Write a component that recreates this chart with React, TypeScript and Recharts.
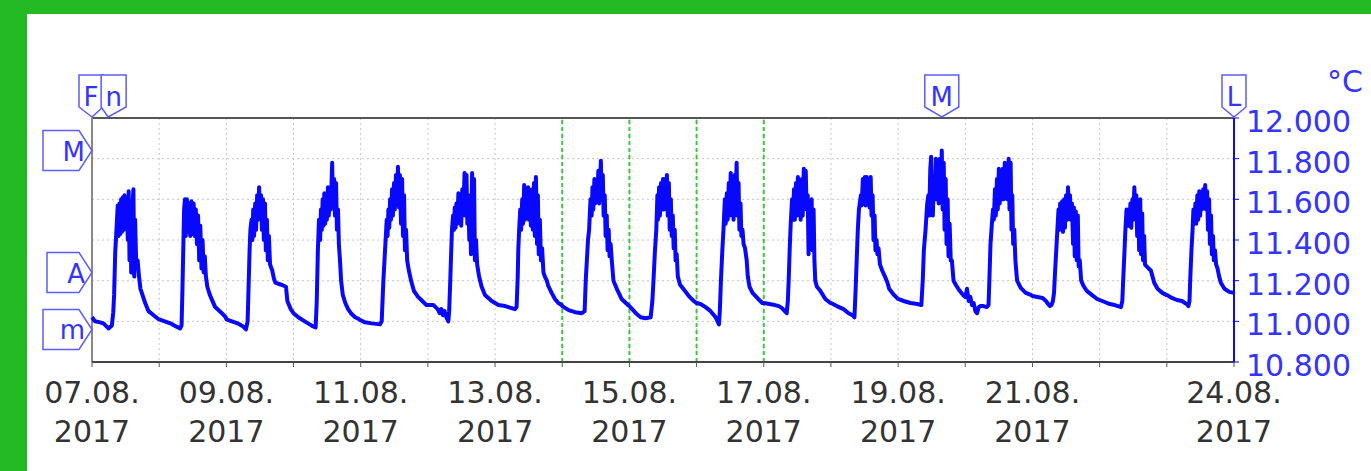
import React from 'react';
import { LineChart, Line, XAxis, YAxis, CartesianGrid, ReferenceLine, ReferenceDot } from 'recharts';

// each day: [hour of day, temperature °C]
type Pt = [number, number];

const aug07: Pt[] = [[0,11.02],[1.1,11.0],[2.9,10.995],[4.1,10.99],[5.9,10.965],[7.1,10.98],[7.6,11.045],[7.9,11.13],[8.3,11.34],[8.7,11.44],[9.2,11.57],[9.5,11.42],[9.8,11.58],[10.1,11.43],[10.4,11.6],[10.7,11.44],[11.0,11.61],[11.3,11.45],[11.6,11.62],[12.0,11.47],[12.4,11.6],[12.8,11.4],[13.1,11.64],[13.4,11.3],[13.7,11.58],[14.0,11.24],[14.4,11.55],[14.8,11.65],[15.1,11.22],[15.4,11.5],[15.8,11.28],[16.3,11.3],[16.8,11.22],[17.3,11.16],[17.8,11.14],[19,11.09],[20.2,11.05],[22,11.03],[23.8,11.01]];
const aug08: Pt[] = [[0,11.01],[2,11.0],[4,10.99],[6,10.975],[7.5,10.965],[8.0,10.98],[8.3,11.15],[8.6,11.35],[8.9,11.55],[9.2,11.6],[9.5,11.42],[9.9,11.6],[10.3,11.44],[10.7,11.58],[11.1,11.42],[11.5,11.59],[11.9,11.43],[12.3,11.58],[12.7,11.42],[13.1,11.55],[13.5,11.38],[13.9,11.52],[14.3,11.3],[14.7,11.47],[15.1,11.26],[15.5,11.4],[15.9,11.24],[16.3,11.32],[16.7,11.22],[17.2,11.17],[18.1,11.13],[20,11.07],[22.4,11.04],[23.8,11.02]];
const aug09: Pt[] = [[0,11.01],[2,11.0],[4,10.99],[6,10.975],[7,10.96],[7.6,11.0],[8,11.2],[8.3,11.35],[8.6,11.45],[9,11.5],[9.3,11.4],[9.6,11.55],[9.9,11.42],[10.3,11.58],[10.6,11.45],[11,11.62],[11.3,11.5],[11.7,11.66],[12,11.52],[12.4,11.62],[12.7,11.45],[13.1,11.6],[13.4,11.4],[13.8,11.58],[14.1,11.35],[14.5,11.5],[14.8,11.3],[15.2,11.42],[15.6,11.28],[16.4,11.25],[17,11.21],[17.5,11.19],[18.5,11.185],[19.7,11.18],[21.3,11.17],[21.8,11.1],[23,11.06]];
const aug10: Pt[] = [[0,11.04],[1.7,11.02],[4,11.0],[5.8,10.985],[7,10.975],[7.9,10.97],[8.3,11.1],[8.7,11.35],[9.1,11.5],[9.5,11.4],[9.8,11.55],[10.1,11.45],[10.4,11.6],[10.7,11.47],[11,11.63],[11.3,11.48],[11.6,11.62],[11.9,11.5],[12.3,11.66],[12.6,11.52],[13,11.65],[13.3,11.55],[13.8,11.78],[14.1,11.56],[14.5,11.7],[14.8,11.52],[15.2,11.68],[15.5,11.45],[15.9,11.55],[16.2,11.38],[16.6,11.3],[17,11.2],[17.6,11.13],[18.5,11.09],[19.5,11.06],[20.5,11.04],[22,11.02],[23.5,11.01]];
const aug11: Pt[] = [[0,11.005],[1.5,10.995],[3.9,10.99],[6.9,10.985],[7.5,11.0],[8.1,11.2],[8.7,11.35],[9.3,11.5],[9.6,11.42],[9.9,11.55],[10.2,11.46],[10.5,11.6],[10.8,11.5],[11.2,11.65],[11.5,11.52],[11.9,11.68],[12.2,11.55],[12.6,11.72],[13,11.58],[13.3,11.76],[13.7,11.56],[14,11.72],[14.4,11.48],[14.8,11.7],[15.1,11.42],[15.5,11.62],[15.8,11.35],[16.2,11.45],[16.6,11.3],[17.2,11.25],[18,11.2],[19,11.15],[20.5,11.12],[22,11.1],[23.5,11.08]];
const aug12: Pt[] = [[0,11.08],[2,11.08],[3.5,11.06],[4.2,11.04],[4.8,11.06],[5.4,11.03],[6,11.05],[6.6,11.02],[7.3,11.0],[7.6,11.05],[8,11.2],[8.3,11.33],[8.6,11.45],[9,11.52],[9.3,11.45],[9.6,11.56],[9.9,11.46],[10.2,11.58],[10.5,11.48],[10.9,11.63],[11.2,11.5],[11.6,11.62],[11.9,11.47],[12.3,11.65],[12.7,11.55],[13.1,11.73],[13.4,11.52],[13.8,11.72],[14.1,11.48],[14.4,11.62],[14.8,11.4],[15.1,11.55],[15.4,11.33],[15.8,11.73],[16.1,11.35],[16.5,11.7],[16.8,11.3],[17.2,11.4],[17.6,11.28],[18.3,11.22],[19.2,11.17],[20.4,11.13],[22.8,11.1]];
const aug13: Pt[] = [[0,11.09],[1.2,11.08],[3.6,11.075],[5.9,11.065],[7.1,11.06],[7.7,11.07],[8.1,11.22],[8.3,11.35],[8.6,11.45],[9,11.55],[9.3,11.45],[9.7,11.6],[10,11.48],[10.4,11.67],[10.7,11.5],[11.1,11.62],[11.4,11.52],[11.8,11.66],[12.1,11.5],[12.5,11.6],[12.8,11.47],[13.2,11.65],[13.5,11.45],[13.9,11.68],[14.2,11.42],[14.6,11.71],[15,11.38],[15.3,11.62],[15.6,11.33],[16,11.5],[16.4,11.3],[16.8,11.36],[17.3,11.24],[17.8,11.22],[18.5,11.2],[19,11.175],[20.2,11.14],[21.4,11.11],[22.6,11.09],[23.8,11.08]];
const aug14: Pt[] = [[0,11.075],[2.3,11.055],[4.6,11.045],[7,11.04],[8,11.05],[8.4,11.2],[9.2,11.4],[9.6,11.45],[10.1,11.6],[10.5,11.52],[10.8,11.66],[11.1,11.55],[11.5,11.7],[11.8,11.58],[12.2,11.66],[12.5,11.6],[12.9,11.74],[13.2,11.58],[13.6,11.7],[13.8,11.79],[14.1,11.6],[14.5,11.72],[14.8,11.52],[15.2,11.62],[15.5,11.42],[15.9,11.52],[16.2,11.35],[16.6,11.45],[16.9,11.32],[17.3,11.38],[17.7,11.3],[18.3,11.2],[19.5,11.16],[21.2,11.11],[23.5,11.08]];
const aug15: Pt[] = [[0,11.075],[2.3,11.04],[4,11.02],[5.8,11.015],[7.6,11.02],[8.2,11.1],[8.6,11.2],[9.1,11.34],[9.6,11.45],[10,11.62],[10.2,11.5],[10.6,11.66],[10.9,11.52],[11.3,11.68],[11.6,11.55],[12,11.7],[12.3,11.55],[12.7,11.7],[13,11.58],[13.4,11.72],[13.7,11.52],[14.1,11.68],[14.4,11.45],[14.8,11.6],[15.1,11.42],[15.5,11.52],[15.8,11.36],[16.2,11.45],[16.5,11.3],[16.9,11.33],[17.3,11.22],[18.1,11.18],[19.8,11.15],[21.5,11.12],[23,11.1]];
const aug16: Pt[] = [[0,11.09],[1.4,11.085],[3.2,11.07],[5,11.05],[6.8,11.02],[8,10.985],[8.3,11.05],[8.7,11.2],[9.2,11.35],[9.6,11.45],[10.1,11.6],[10.4,11.48],[10.8,11.63],[11.1,11.5],[11.5,11.68],[11.8,11.52],[12.2,11.73],[12.5,11.55],[12.9,11.7],[13.2,11.5],[13.6,11.72],[13.9,11.55],[14.3,11.78],[14.6,11.52],[15,11.68],[15.3,11.45],[15.7,11.58],[16,11.42],[16.4,11.45],[16.8,11.38],[17.3,11.36],[17.9,11.3],[18.3,11.22],[18.9,11.17],[20,11.14],[22,11.11],[23.5,11.09]];
const aug17: Pt[] = [[0,11.09],[2,11.085],[4,11.08],[5.4,11.075],[6.5,11.065],[7.5,11.05],[8.2,11.04],[8.6,11.1],[8.9,11.2],[9.3,11.37],[9.6,11.47],[10.1,11.6],[10.4,11.5],[10.8,11.65],[11.1,11.5],[11.5,11.68],[11.8,11.52],[12.2,11.71],[12.5,11.55],[12.9,11.66],[13.2,11.5],[13.6,11.7],[13.9,11.52],[14.3,11.75],[14.6,11.58],[15,11.74],[15.3,11.55],[15.7,11.62],[16,11.33],[16.4,11.55],[16.7,11.4],[17.1,11.6],[17.4,11.35],[17.8,11.55],[18.1,11.3],[18.4,11.2],[19,11.17],[20.2,11.15],[22,11.11],[23.8,11.09]];
const aug18: Pt[] = [[0,11.09],[2.1,11.075],[4.5,11.06],[6.3,11.04],[7.7,11.03],[8.4,11.02],[8.8,11.15],[9.2,11.3],[9.6,11.45],[10,11.55],[10.3,11.58],[10.7,11.62],[11,11.57],[11.4,11.7],[11.7,11.58],[12.1,11.71],[12.4,11.57],[12.8,11.71],[13.1,11.58],[13.5,11.7],[13.8,11.56],[14.2,11.71],[14.5,11.52],[14.9,11.62],[15.2,11.4],[15.6,11.52],[15.9,11.35],[16.3,11.4],[16.6,11.33],[17,11.36],[17.5,11.28],[18.3,11.25],[19.3,11.22],[20.2,11.19],[20.8,11.16],[22.5,11.13]];
const aug19: Pt[] = [[0,11.11],[2,11.1],[4.4,11.09],[6.8,11.085],[8.3,11.08],[8.8,11.2],[9.2,11.35],[9.8,11.45],[10.4,11.58],[10.8,11.62],[11.1,11.52],[11.5,11.75],[11.8,11.81],[12.1,11.55],[12.4,11.52],[12.8,11.7],[13.1,11.6],[13.5,11.8],[13.8,11.6],[14.2,11.79],[14.5,11.58],[14.9,11.8],[15.2,11.62],[15.6,11.84],[15.9,11.55],[16.3,11.78],[16.6,11.45],[17,11.7],[17.3,11.38],[17.7,11.6],[18,11.32],[18.4,11.48],[18.8,11.3],[19.2,11.3],[19.8,11.2],[20.8,11.175],[22,11.15],[23.2,11.13]];
const aug20: Pt[] = [[0,11.12],[0.6,11.16],[1.2,11.1],[1.8,11.12],[2.4,11.08],[3,11.09],[3.6,11.05],[4.2,11.04],[4.8,11.07],[5.4,11.075],[6.5,11.075],[7.7,11.07],[8.3,11.08],[8.6,11.2],[9,11.38],[9.5,11.48],[9.9,11.55],[10.2,11.5],[10.6,11.65],[10.9,11.52],[11.3,11.7],[11.6,11.55],[12,11.75],[12.3,11.58],[12.7,11.72],[13,11.6],[13.4,11.75],[13.7,11.6],[14.1,11.78],[14.4,11.62],[14.8,11.77],[15.1,11.6],[15.5,11.8],[15.8,11.55],[16.2,11.78],[16.5,11.45],[16.8,11.62],[17.1,11.38],[17.5,11.45],[17.9,11.3],[18.5,11.2],[19.8,11.165],[21.6,11.14],[23.4,11.13]];
const aug21: Pt[] = [[0,11.125],[1.8,11.12],[3.6,11.115],[4.8,11.1],[5.6,11.085],[6.2,11.075],[6.8,11.08],[7.3,11.1],[7.7,11.14],[8.1,11.25],[8.5,11.35],[8.9,11.45],[9.3,11.55],[9.6,11.45],[9.9,11.58],[10.2,11.46],[10.6,11.59],[10.9,11.44],[11.3,11.6],[11.6,11.46],[12,11.62],[12.4,11.5],[12.7,11.66],[13,11.52],[13.4,11.62],[13.7,11.5],[14.1,11.58],[14.5,11.38],[14.8,11.56],[15.1,11.32],[15.5,11.54],[15.8,11.3],[16.2,11.52],[16.5,11.27],[16.9,11.3],[17.4,11.2],[18.2,11.175],[19.4,11.15],[21.2,11.13],[23.1,11.11]];
const aug22: Pt[] = [[0,11.105],[1.8,11.095],[3.6,11.085],[5.4,11.08],[6.5,11.075],[7.6,11.07],[8.1,11.1],[8.4,11.2],[8.8,11.32],[9.2,11.45],[9.6,11.55],[9.9,11.47],[10.3,11.55],[10.6,11.47],[11,11.58],[11.3,11.46],[11.7,11.6],[12,11.5],[12.4,11.66],[12.7,11.52],[13.1,11.62],[13.4,11.42],[13.8,11.58],[14.1,11.35],[14.5,11.6],[14.8,11.33],[15.2,11.53],[15.5,11.3],[15.9,11.42],[16.2,11.28],[16.8,11.27],[17.5,11.26],[18.3,11.25],[18.9,11.22],[19.5,11.19],[20.7,11.16],[22.4,11.14],[23.8,11.13]];
const aug23: Pt[] = [[0,11.13],[1.8,11.115],[3.6,11.105],[5.4,11.1],[6.5,11.09],[7.1,11.085],[7.7,11.075],[8.1,11.1],[8.4,11.22],[8.8,11.35],[9.2,11.45],[9.5,11.55],[9.9,11.48],[10.2,11.58],[10.5,11.48],[10.9,11.62],[11.2,11.5],[11.6,11.64],[11.9,11.52],[12.3,11.63],[12.6,11.55],[13,11.65],[13.3,11.57],[13.7,11.67],[14,11.55],[14.4,11.64],[14.7,11.45],[15.1,11.6],[15.4,11.38],[15.8,11.52],[16.1,11.33],[16.5,11.42],[16.8,11.3],[17.2,11.35],[17.6,11.28],[18.1,11.26],[18.7,11.22],[19.3,11.19],[20.6,11.16],[22.3,11.145],[24,11.14]];

const DAYS = [aug07, aug08, aug09, aug10, aug11, aug12, aug13, aug14, aug15, aug16, aug17, aug18, aug19, aug20, aug21, aug22, aug23];

// x axis: one tick per day, labels only on some of them
const X_TICKS = [0, 1, 2, 3, 4, 5, 6, 7, 8, 9, 10, 11, 12, 13, 14, 15, 16, 17];
const LABEL_TICKS = [0, 2, 4, 6, 8, 10, 12, 14, 17];
const LABEL_DATES = ['07.08.', '09.08.', '11.08.', '13.08.', '15.08.', '17.08.', '19.08.', '21.08.', '24.08.'];
const LABEL_YEAR = '2017';
const Y_TICKS = [10.8, 11.0, 11.2, 11.4, 11.6, 11.8, 12.0];
const GREEN_DAYS = [7, 8, 9, 10];

// marker readings from the source picture
const AVG_VALUE = 11.24;
const CURSOR_T = 0.24;

const data = DAYS.flatMap((day, i) => day.map(([h, v]) => ({ t: i + h / 24, v })));
const maxPt = data.reduce((a, b) => (b.v > a.v ? b : a));
const minPt = data.reduce((a, b) => (b.v < a.v ? b : a));

const FONT = 'DejaVu Sans';
const BLUE = '#0808ff';
const TEXT_BLUE = '#3434ff';
const FLAG_STROKE = '#5c5cff';

const DateTick = ({ x, y, payload }: any) => {
  const i = LABEL_TICKS.indexOf(payload.value);
  if (i < 0) return null;
  return (
    <text x={x} y={y} textAnchor="middle" fontFamily={FONT} fontSize={30} fill="#333">
      <tspan x={x} dy={36}>{LABEL_DATES[i]}</tspan>
      <tspan x={x} dy={39}>{LABEL_YEAR}</tspan>
    </text>
  );
};

const ValueTick = ({ x, y, payload }: any) => (
  <text x={x} y={y + 14} textAnchor="start" fontFamily={FONT} fontSize={30} fill={TEXT_BLUE}>
    {payload.value.toFixed(3)}
  </text>
);

const UnitLabel = ({ viewBox }: any) => (
  <text x={viewBox.x + 93} y={viewBox.y - 26} fontFamily={FONT} fontSize={30} fill={TEXT_BLUE}>°C</text>
);

// flag on the left edge, pointing right at a value
const LeftFlag = ({ cx, cy, text, w }: any) => {
  const x0 = cx - w, x1 = cx - 13;
  return (
    <g>
      <polygon points={`${x0},${cy - 20} ${x1},${cy - 20} ${cx},${cy} ${x1},${cy + 20} ${x0},${cy + 20}`}
        fill="#fff" stroke={FLAG_STROKE} strokeWidth={1.5} />
      <text x={cx - 7} y={cy + 10} textAnchor="end" fontFamily={FONT} fontSize={26} fill={TEXT_BLUE}>{text}</text>
    </g>
  );
};

// flag above the top edge, pointing down at a time
const TopFlag = ({ cx, cy, text, l, r }: any) => {
  const top = cy - 43, bot = cy - 11;
  return (
    <g>
      <polygon points={`${cx - l},${top} ${cx + r},${top} ${cx + r},${bot} ${cx},${cy - 1} ${cx - l},${bot}`}
        fill="#fff" stroke={FLAG_STROKE} strokeWidth={1.5} />
      <text x={cx + (r - l) / 2} y={cy - 12} textAnchor="middle" fontFamily={FONT} fontSize={26} fill={TEXT_BLUE}>{text}</text>
    </g>
  );
};

export default function App() {
  return (
    <div style={{ position: 'absolute', left: 0, top: 0, width: 1371, height: 471, background: '#23b923', overflow: 'hidden' }}>
      <div style={{ position: 'absolute', left: 27, top: 14, right: 0, bottom: 0, background: '#fff' }} />
      <div style={{ position: 'absolute', left: 0, top: 0 }}>
        <LineChart width={1371} height={471} data={data} margin={{ top: 118, right: 0, bottom: 9, left: 92 }}>
          <CartesianGrid stroke="#c6c6c6" strokeDasharray="2 3" />
          <XAxis dataKey="t" type="number" domain={[0, 17]} ticks={X_TICKS} interval={0} height={100}
            axisLine={{ stroke: '#444', strokeWidth: 2 }} tickLine={{ stroke: '#555' }} tickSize={5} tickMargin={0}
            tick={<DateTick />} />
          <YAxis orientation="right" domain={[10.8, 12]} ticks={Y_TICKS} interval={0} width={137}
            axisLine={{ stroke: BLUE, strokeWidth: 2 }} tickLine={{ stroke: BLUE }} tickSize={5} tickMargin={7}
            tick={<ValueTick />} label={<UnitLabel />} />
          {GREEN_DAYS.map(d => (
            <ReferenceLine key={d} x={d} stroke="#3cc83c" strokeWidth={2} strokeDasharray="4 3" />
          ))}
          <ReferenceLine y={12} stroke="#555" strokeWidth={2} />
          <ReferenceLine x={0} stroke="#888" strokeWidth={2} />
          <Line type="linear" dataKey="v" stroke={BLUE} strokeWidth={4} strokeLinejoin="round" dot={false}
            isAnimationActive={false} />
          <ReferenceDot x={0} y={maxPt.v} shape={(p: any) => <LeftFlag cx={p.cx} cy={p.cy} text="M" w={49} />} />
          <ReferenceDot x={0} y={AVG_VALUE} shape={(p: any) => <LeftFlag cx={p.cx} cy={p.cy} text="A" w={45} />} />
          <ReferenceDot x={0} y={minPt.v} shape={(p: any) => <LeftFlag cx={p.cx} cy={p.cy} text="m" w={49} />} />
          <ReferenceDot x={0} y={12} shape={(p: any) => <TopFlag cx={p.cx} cy={p.cy} text="F" l={13} r={11} />} />
          <ReferenceDot x={CURSOR_T} y={12} shape={(p: any) => <TopFlag cx={p.cx} cy={p.cy} text="n" l={7} r={18} />} />
          <ReferenceDot x={maxPt.t} y={12} shape={(p: any) => <TopFlag cx={p.cx} cy={p.cy} text="M" l={17} r={17} />} />
          <ReferenceDot x={17} y={12} shape={(p: any) => <TopFlag cx={p.cx} cy={p.cy} text="L" l={12} r={12} />} />
        </LineChart>
      </div>
    </div>
  );
}
